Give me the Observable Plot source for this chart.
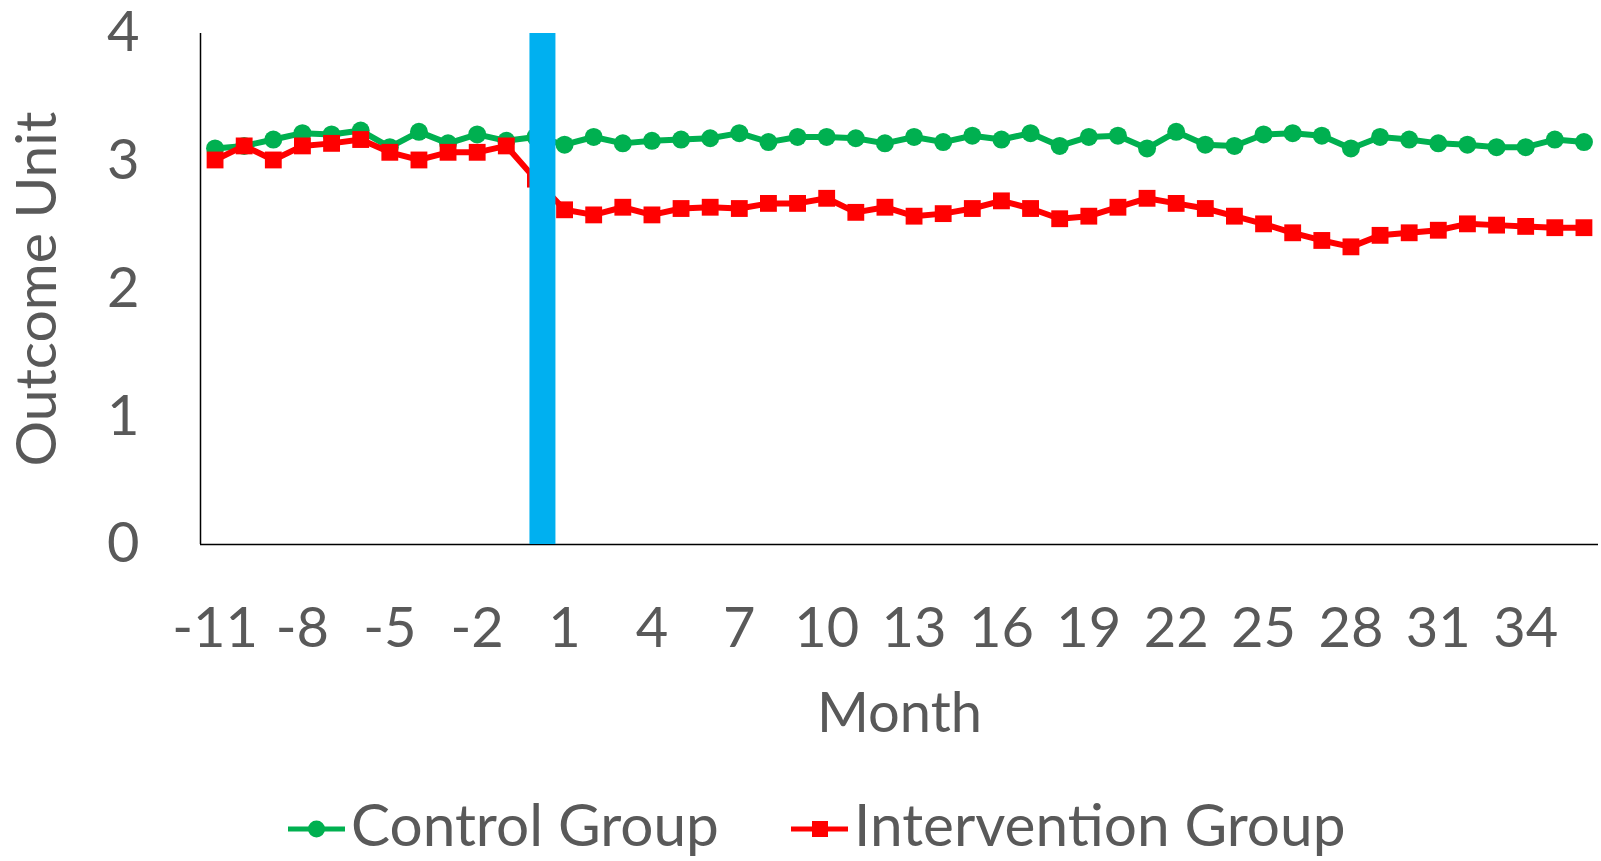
<!DOCTYPE html>
<html>
<head>
<meta charset="utf-8">
<script src="https://cdn.jsdelivr.net/npm/d3@7"></script>
<script src="https://cdn.jsdelivr.net/npm/@observablehq/plot@0.6"></script>
<style>
  html, body { margin: 0; padding: 0; background: #fff; }
  #chart svg { display: block; overflow: visible; }
  .legend { position: relative; height: 91px; width: 1601px; font-family: Lato, sans-serif; font-size: 58.5px; color: #595959; }
  .legend .item { position: absolute; top: 0; display: flex; align-items: flex-start; }
  .legend .item svg { margin-top: 49px; display: block; }
  .legend .item span { line-height: 58.5px; margin-top: 24px; margin-left: 6px; white-space: nowrap; }
</style>
</head>
<body>
<div id="chart"></div>
<div class="legend" id="legend"></div>
<script>
// Monthly outcome, 11 months before to 36 months after the intervention
const months = [-11, -10, -9, -8, -7, -6, -5, -4, -3, -2, -1, 0,
  1, 2, 3, 4, 5, 6, 7, 8, 9, 10, 11, 12,
  13, 14, 15, 16, 17, 18, 19, 20, 21, 22, 23, 24,
  25, 26, 27, 28, 29, 30, 31, 32, 33, 34, 35, 36];

const control = [3.10, 3.12, 3.17, 3.22, 3.21, 3.24, 3.11, 3.23, 3.14, 3.21, 3.16, 3.19,
  3.13, 3.19, 3.14, 3.16, 3.17, 3.18, 3.22, 3.15, 3.19, 3.19, 3.18, 3.14,
  3.19, 3.15, 3.20, 3.17, 3.22, 3.12, 3.19, 3.20, 3.10, 3.23, 3.13, 3.12,
  3.21, 3.22, 3.20, 3.10, 3.19, 3.17, 3.14, 3.13, 3.11, 3.11, 3.17, 3.15];

const intervention = [3.01, 3.12, 3.01, 3.12, 3.14, 3.17, 3.07, 3.01, 3.07, 3.07, 3.12, 2.86,
  2.62, 2.58, 2.64, 2.58, 2.63, 2.64, 2.63, 2.67, 2.67, 2.71, 2.60, 2.64,
  2.57, 2.59, 2.63, 2.69, 2.63, 2.55, 2.57, 2.64, 2.71, 2.67, 2.63, 2.57,
  2.51, 2.44, 2.38, 2.33, 2.42, 2.44, 2.46, 2.51, 2.50, 2.49, 2.48, 2.48];

const interventionMonth = [0];
const xTicks = [-11, -8, -5, -2, 1, 4, 7, 10, 13, 16, 19, 22, 25, 28, 31, 34];
const yTicks = [0, 1, 2, 3, 4];
const seriesNames = ["Control Group", "Intervention Group"];
const seriesColors = ["#00B050", "#FF0000"];

const controlRows = months.map((m, i) => ({month: m, value: control[i]}));
const interventionRows = months.map((m, i) => ({month: m, value: intervention[i]}));

// categories sit in the middle of equal slots along the axis
const xDomain = [months[0] - 0.5, months[months.length - 1] + 0.5];

const chart = Plot.plot({
  width: 1601,
  height: 770,
  marginLeft: 200,
  marginRight: 3,
  marginTop: 33,
  marginBottom: 226,
  x: {domain: xDomain},
  y: {domain: [yTicks[0], yTicks[yTicks.length - 1]]},
  style: {fontFamily: "Lato, sans-serif", fontSize: "56px", color: "#595959", background: "#fff", overflow: "visible"},
  marks: [
    Plot.ruleY([0], {stroke: "#000", strokeWidth: 1.5}),
    Plot.ruleX([xDomain[0]], {y1: 0, y2: 4, stroke: "#000", strokeWidth: 1.5}),
    Plot.line(controlRows, {x: "month", y: "value", stroke: seriesColors[0], strokeWidth: 6, strokeLinejoin: "round"}),
    Plot.dot(controlRows, {x: "month", y: "value", symbol: "circle", r: 9, fill: seriesColors[0], stroke: "none"}),
    Plot.line(interventionRows, {x: "month", y: "value", stroke: seriesColors[1], strokeWidth: 6, strokeLinejoin: "round"}),
    Plot.dot(interventionRows, {x: "month", y: "value", symbol: "square", r: 9.5, fill: seriesColors[1], stroke: "none"}),
    // intervention start marker
    Plot.ruleX(interventionMonth, {y1: 0, y2: 4, stroke: "#00B0F0", strokeWidth: 26, dx: 7}),
    Plot.axisX({ticks: xTicks, tickSize: 0, tickPadding: 63, tickFormat: d => String(d), label: null, fontSize: 56}),
    Plot.axisY({ticks: yTicks, tickSize: 0, tickPadding: 61, tickFormat: d => String(d), label: null, fontSize: 56}),
    Plot.text(["Month"], {frameAnchor: "bottom", lineAnchor: "middle", textAnchor: "middle", dy: 170, fontSize: 56, fill: "#595959"}),
    Plot.text(["Outcome Unit"], {frameAnchor: "left", lineAnchor: "middle", textAnchor: "middle", rotate: -90, dx: -163, fontSize: 57, fill: "#595959"})
  ]
});
document.getElementById("chart").appendChild(chart);

// legend row below the plot
const legend = d3.select("#legend");
const legendLeft = [288, 791];
seriesNames.forEach((name, i) => {
  const item = legend.append("div").attr("class", "item").style("left", legendLeft[i] + "px");
  const sw = item.append("svg").attr("width", 57).attr("height", 20);
  sw.append("line").attr("x1", 0).attr("x2", 57).attr("y1", 10).attr("y2", 10)
    .attr("stroke", seriesColors[i]).attr("stroke-width", 5).attr("stroke-linecap", "round");
  if (i === 0) {
    sw.append("circle").attr("cx", 28.5).attr("cy", 10).attr("r", 8.5).attr("fill", seriesColors[i]);
  } else {
    sw.append("rect").attr("x", 21).attr("y", 2).attr("width", 16).attr("height", 16).attr("fill", seriesColors[i]);
  }
  item.append("span").text(name);
});
</script>
</body>
</html>
